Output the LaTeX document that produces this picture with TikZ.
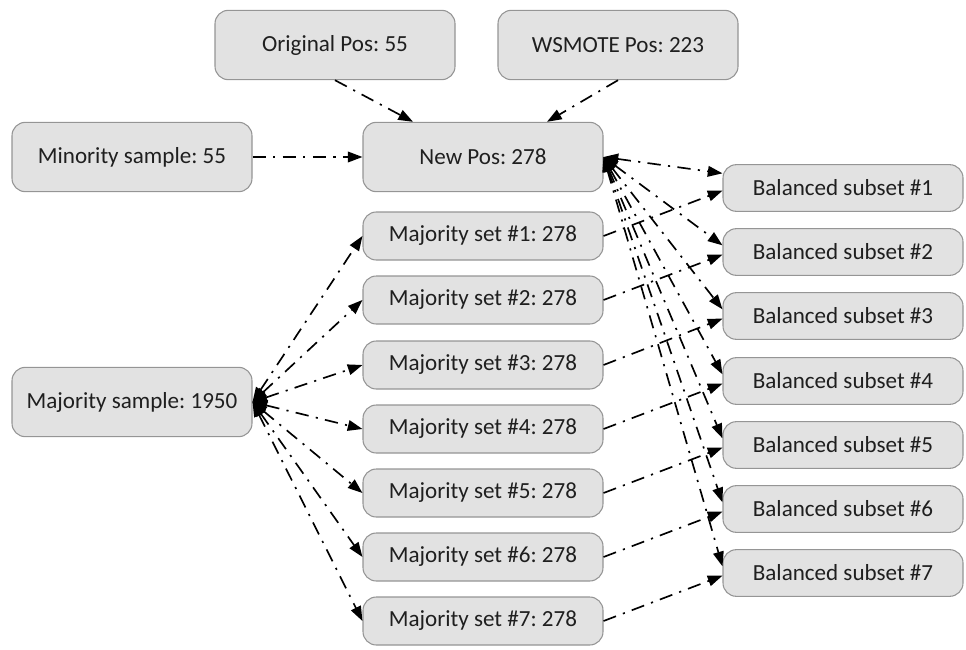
\documentclass[tikz,border=0pt]{standalone}
\usepackage{fontspec}
\setmainfont{Carlito}
\usetikzlibrary{arrows.meta}
\definecolor{boxfill}{HTML}{E2E2E2}
\definecolor{boxline}{HTML}{959595}
\frenchspacing
\begin{document}
\begin{tikzpicture}[x=0.75pt,y=-0.75pt,
  box/.style={draw=boxline,fill=boxfill,line width=0.8pt,rounded corners=10pt,
    minimum width=180pt,inner sep=0pt,font=\fontsize{17.3}{20}\selectfont,text=black!88},
  bigbox/.style={box,minimum height=52pt},
  smallbox/.style={box,minimum height=36pt},
  conn/.style={line width=1.25pt,dash pattern=on 10pt off 5.5pt on 1.6pt off 5.5pt,
    -{Triangle[length=11pt,width=8pt]}},
  dconn/.style={conn,{Triangle[length=11pt,width=8pt]}-{Triangle[length=11pt,width=8pt]}}]
\useasboundingbox (0,0) rectangle (966,649);
\node[bigbox] (orig) at (335,45) {Original Pos: 55};
\node[bigbox] (wsm) at (618,45) {WSMOTE Pos: 223};
\node[bigbox] (mino) at (132,157) {Minority sample: 55};
\node[bigbox] (newp) at (483,157) {New Pos: 278};
\node[bigbox] (majs) at (132,402) {Majority sample: 1950};
\foreach \i/\y in {1/236,2/300,3/365,4/429,5/493,6/557,7/621}
  \node[smallbox] (m\i) at (483,\y) {Majority set \#\i: 278};
\foreach \i/\y in {1/188,2/252,3/316,4/381,5/445,6/509,7/573}
  \node[smallbox,minimum height=35pt] (b\i) at (843,\y) {Balanced subset \#\i};
\draw[conn] (orig.south) -- ([xshift=-70pt*0.75]newp.north);
\draw[conn] (wsm.south) -- ([xshift=64pt*0.75]newp.north);
\draw[conn] (mino.east) -- (newp.west);
\foreach \i in {1,...,7}{
  \draw[dconn] (majs.east) -- (m\i.west);
  \draw[conn] (m\i.east) -- ([yshift=-2pt]b\i.west);
}
\draw[dconn] (newp.east) -- ([yshift=11pt]b1.west);
\foreach \i in {2,...,7}
  \draw[dconn] (newp.east) -- ([yshift=5pt]b\i.west);
\end{tikzpicture}
\end{document}
